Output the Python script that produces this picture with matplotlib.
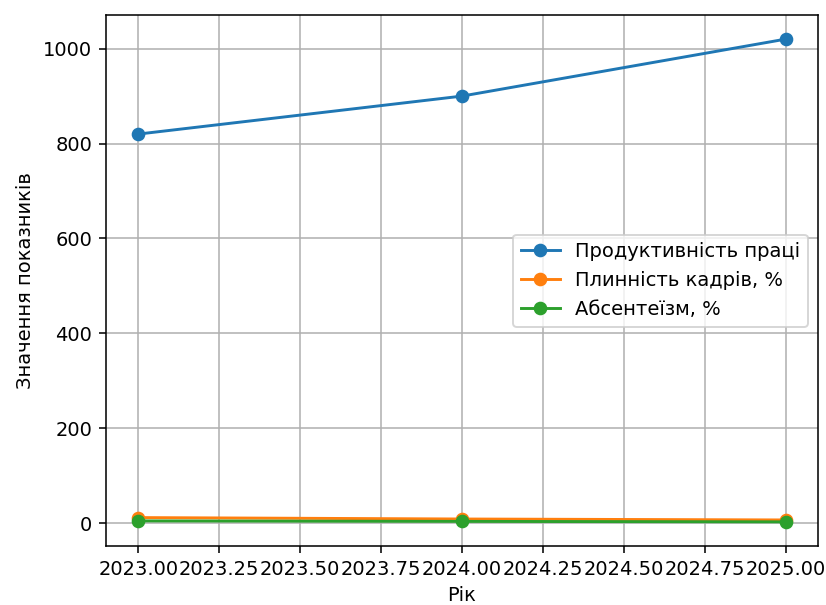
import matplotlib
matplotlib.use("Agg")
import matplotlib.pyplot as plt

# data
years = [2023, 2024, 2025]
productivity = [820, 900, 1020]
turnover = [12, 9, 7]
absenteeism = [5, 4, 3]

labels = ["Продуктивність праці", "Плинність кадрів, %", "Абсентеїзм, %"]

fig = plt.figure(figsize=(826 / 140, 605 / 140), dpi=140)
ax = fig.add_axes([106 / 826, 1 - 546 / 605, (818 - 106) / 826, (546 - 15) / 605])

ax.plot(years, productivity, marker="o", label=labels[0])
ax.plot(years, turnover, marker="o", label=labels[1])
ax.plot(years, absenteeism, marker="o", label=labels[2])

ax.set_xlabel("Рік")
ax.set_ylabel("Значення показників")
ax.legend()
ax.grid(True)

fig.savefig("out.png", dpi=140)
